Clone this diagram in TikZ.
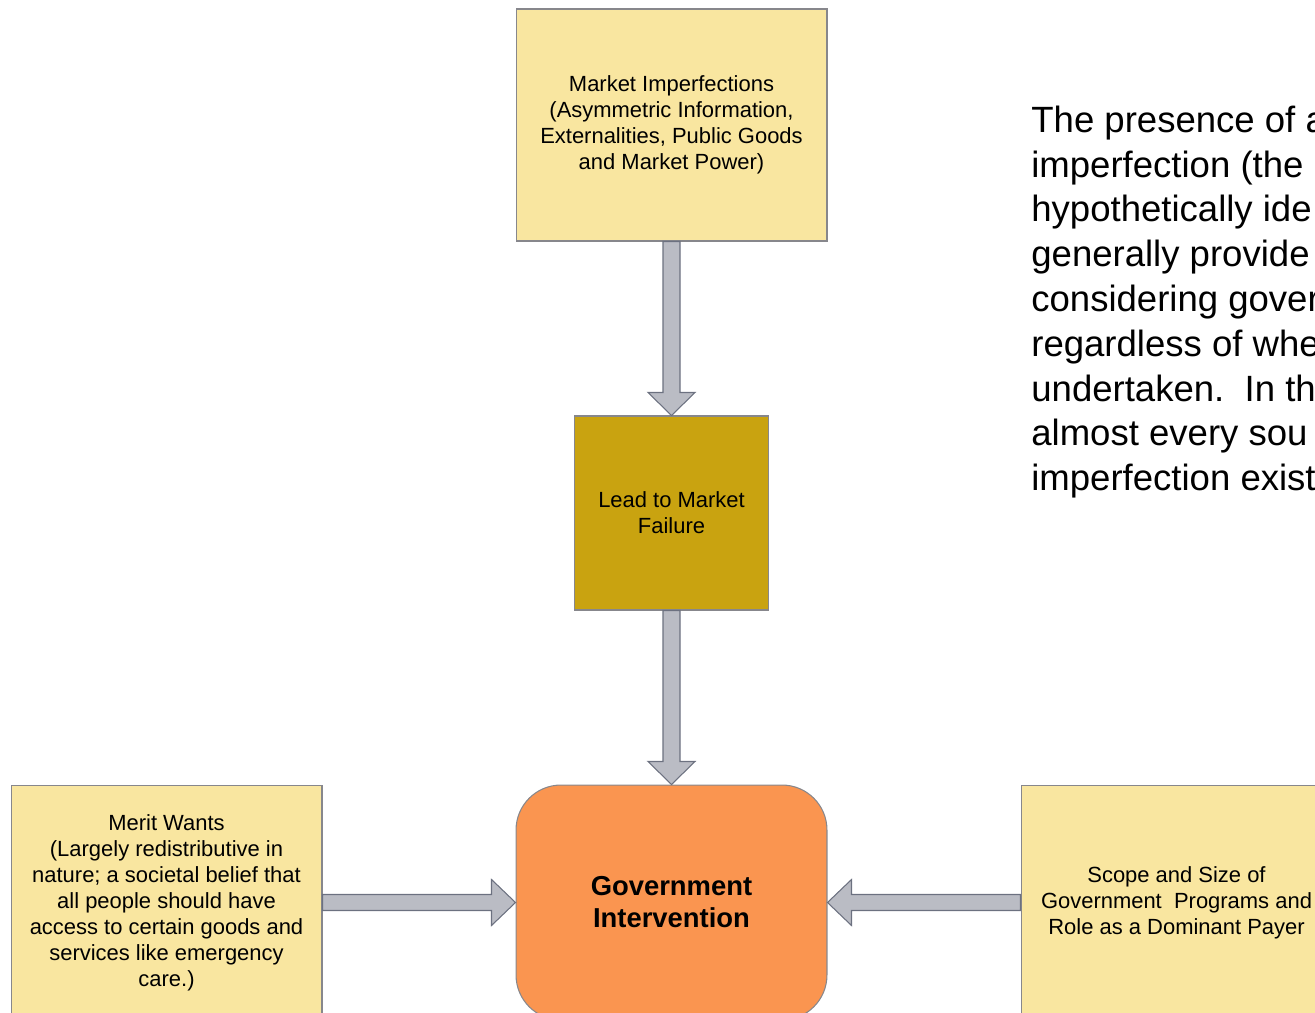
\documentclass[tikz,border=0pt]{standalone}
\usepackage{fontspec}
\setmainfont{Liberation Sans}
\usetikzlibrary{calc}
\definecolor{boxfill}{RGB}{249,230,160}
\definecolor{failfill}{RGB}{201,163,16}
\definecolor{govfill}{RGB}{250,149,80}
\definecolor{boxline}{RGB}{135,135,140}
\definecolor{arrowfill}{RGB}{186,188,196}
\definecolor{arrowline}{RGB}{108,113,128}
\tikzset{
    box/.style={draw=boxline, line width=0.6pt, fill=boxfill, align=center,
        inner sep=0pt, minimum width=6.22cm,
        font=\fontsize{12.5}{14.8}\selectfont},
    blockarrow/.style={draw=arrowline, fill=arrowfill, line width=0.6pt,
        line join=miter},
    bodytext/.style={inner sep=0pt, anchor=base west,
        font=\fontsize{20.8}{25}\selectfont},
}
\begin{document}
\begin{tikzpicture}[x=0.02cm, y=-0.02cm]
    \useasboundingbox (0, 0) rectangle (1315, 1013);
    \clip (0, 0) rectangle (1315, 1013);
    % boxes
    \node[box, minimum height=4.64cm] (imperf) at(671.5, 125)
        {Market Imperfections\\(Asymmetric Information,\\Externalities, Public Goods\\and Market Power)};
    \node[box, fill=failfill, minimum width=3.88cm, minimum height=3.88cm]
        (fail) at(671.5, 513) {Lead to Market\\Failure};
    \node[box, fill=govfill, rounded corners=0.9cm, minimum height=4.7cm,
        font=\bfseries\fontsize{15.6}{18.2}\selectfont] (gov) at(671.5, 902.5)
        {Government\\Intervention};
    \node[box, minimum height=4.7cm] (merit) at(166.5, 902.5)
        {Merit Wants\\(Largely redistributive in\\nature; a societal belief that\\all people should have\\access to certain goods and\\services like emergency\\care.)};
    \node[box, minimum height=4.7cm] (scope) at(1176.5, 902.5)
        {Scope and Size of\\Government\ \ Programs and\\Role as a Dominant Payer};
    % arrows
    \draw[blockarrow] ($(imperf.south)+(-8.5, 0)$) -- ($(fail.north)+(-8.5, -23)$)
        -- ($(fail.north)+(-23.5, -23)$) -- (fail.north)
        -- ($(fail.north)+(23.5, -23)$) -- ($(fail.north)+(8.5, -23)$)
        -- ($(imperf.south)+(8.5, 0)$) -- cycle;
    \draw[blockarrow] ($(fail.south)+(-8.5, 0)$) -- ($(gov.north)+(-8.5, -23)$)
        -- ($(gov.north)+(-23.5, -23)$) -- (gov.north)
        -- ($(gov.north)+(23.5, -23)$) -- ($(gov.north)+(8.5, -23)$)
        -- ($(fail.south)+(8.5, 0)$) -- cycle;
    \draw[blockarrow] ($(merit.east)+(0, -8)$) -- ($(gov.west)+(-24, -8)$)
        -- ($(gov.west)+(-24, -23)$) -- (gov.west)
        -- ($(gov.west)+(-24, 23)$) -- ($(gov.west)+(-24, 8)$)
        -- ($(merit.east)+(0, 8)$) -- cycle;
    \draw[blockarrow] ($(scope.west)+(0, -8)$) -- ($(gov.east)+(24, -8)$)
        -- ($(gov.east)+(24, -23)$) -- (gov.east)
        -- ($(gov.east)+(24, 23)$) -- ($(gov.east)+(24, 8)$)
        -- ($(scope.west)+(0, 8)$) -- cycle;
    % text on the right
    \foreach \t [count=\i] in {The presence of a, imperfection (the,
        hypothetically ide, generally provide, considering gover,
        regardless of whe, undertaken.\ \ In th, almost every sou,
        imperfection exist}
        \node[bodytext] (body\i) at(1031, {87.75+44.75*\i}) {\t};
\end{tikzpicture}
\end{document}
